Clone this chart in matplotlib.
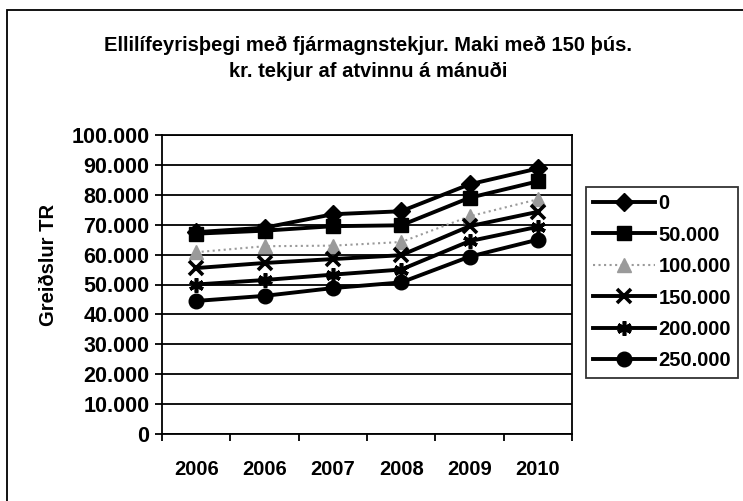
import matplotlib
matplotlib.use("Agg")
import matplotlib.pyplot as plt
from matplotlib.patches import Rectangle
import numpy as np

plt.rcParams['font.family'] = ['Liberation Sans', 'DejaVu Sans']

categories = ["2006", "2006", "2007", "2008", "2009", "2010"]
series_labels = ["0", "50.000", "100.000", "150.000", "200.000", "250.000"]
s0      = [67500, 69000, 73500, 74500, 83500, 88800]
s50000  = [67000, 68000, 69500, 69800, 79000, 84500]
s100000 = [60800, 62800, 63000, 64200, 72800, 78500]
s150000 = [55500, 57200, 58500, 59800, 69500, 74300]
s200000 = [50000, 51500, 53300, 55000, 64500, 69300]
s250000 = [44500, 46200, 48800, 50700, 59300, 65000]
y_ticks = [0, 10000, 20000, 30000, 40000, 50000, 60000, 70000, 80000, 90000, 100000]
y_ticklabels = ["0", "10.000", "20.000", "30.000", "40.000", "50.000",
                "60.000", "70.000", "80.000", "90.000", "100.000"]

fig = plt.figure(figsize=(7.43, 5.01), dpi=100)
ax = fig.add_axes([162/743, 1-434/501, (572-162)/743, (434-135)/501])

x = np.arange(len(categories))
styles = [
    dict(marker='D', color='black', lw=2.8, ms=9, mec='black'),
    dict(marker='s', color='black', lw=2.8, ms=9.5, mec='black'),
    dict(marker='^', color='#9a9a9a', lw=1.5, ls=':', ms=9.5, mec='#9a9a9a'),
    dict(marker='x', color='black', lw=2.8, ms=9.5, mew=2.6),
    dict(marker=(6, 2, 0), color='black', lw=2.8, ms=10.5, mew=2.6),
    dict(marker='o', color='black', lw=2.8, ms=10.5, mec='black'),
]
all_series = [s0, s50000, s100000, s150000, s200000, s250000]
for vals, lab, st in zip(all_series, series_labels, styles):
    ax.plot(x, vals, label=lab, **st)

ax.set_xlim(-0.5, len(categories) - 0.5)
ax.set_ylim(0, 100000)
ax.set_yticks(y_ticks)
ax.set_yticklabels(y_ticklabels, fontsize=15.5, fontweight='bold')
ax.set_xticks(x)
ax.set_xticklabels(categories, fontsize=14.5, fontweight='bold')
ax.tick_params(axis='x', which='major', length=0, pad=19)
ax.set_xticks(np.arange(-0.5, len(categories), 1.0), minor=True)
ax.tick_params(axis='x', which='minor', length=5, width=1.3, direction='out')
ax.tick_params(axis='y', length=5, width=1.3, direction='out', pad=4)
ax.grid(axis='y', color='black', lw=1.3)
ax.set_axisbelow(True)
for sp in ax.spines.values():
    sp.set_linewidth(1.3)
    sp.set_color('black')

fig.text(48/743, 1-265/501, "Greiðslur TR", rotation=90, ha='center', va='center',
         fontsize=14.5, fontweight='bold')

fig.text(0.495, 1-45/501, "Ellilífeyrisþegi með fjármagnstekjur. Maki með 150 þús.",
         ha='center', va='center', fontsize=14.5, fontweight='bold')
fig.text(0.495, 1-71/501, "kr. tekjur af atvinnu á mánuði",
         ha='center', va='center', fontsize=14.5, fontweight='bold')

leg = fig.legend(loc='upper left', bbox_to_anchor=(586/743, 1-187/501),
                 prop=dict(weight='bold', size=14.5),
                 frameon=True, fancybox=False, edgecolor='black',
                 handlelength=3.1, handletextpad=0.15, labelspacing=0.62,
                 borderpad=0.35, borderaxespad=0)
leg.get_frame().set_linewidth(1.3)

fig.patches.append(Rectangle((7/743, -0.1), 1.2, 1-10/501+0.1, transform=fig.transFigure,
                             fill=False, edgecolor='black', lw=1.3))

fig.savefig("out.png", dpi=100)
